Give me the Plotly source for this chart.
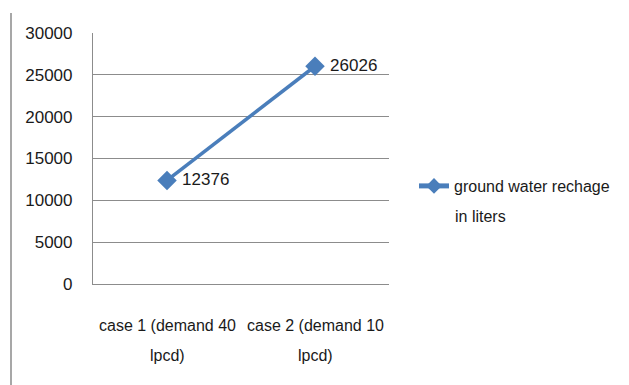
import plotly.graph_objects as go

# Groundwater recharge for two household demand scenarios
categories = ["case 1 (demand 40", "case 2 (demand 10"]
categories_line2 = ["lpcd)", "lpcd)"]
recharge_liters = [12376, 26026]
y_ticks = [0, 5000, 10000, 15000, 20000, 25000, 30000]

series_name = "ground water rechage"
series_name_line2 = "in liters"

FONT = "Liberation Sans, Arial, sans-serif"
FS = 17        # axis numbers and data labels
FS_CAT = 16    # category and legend text
TXT = "#1a1a1a"
BLUE = "#4A7EBB"
GRID = "#8C8C8C"
W, H = 629, 385
L, R, T, B = 93, 240, 33, 101
pw, ph = W - L - R, H - T - B


def px_x(px):
    return (px - L) / pw


def px_y(py):
    return (H - B - py) / ph


x_idx = list(range(len(categories)))

fig = go.Figure()
fig.add_trace(go.Scatter(
    x=x_idx,
    y=recharge_liters,
    mode="lines+markers+text",
    name=series_name,
    line=dict(color=BLUE, width=3.5),
    marker=dict(symbol="diamond", size=15, color=BLUE),
    text=[f" {v}" for v in recharge_liters],
    textposition="middle right",
    textfont=dict(family=FONT, size=FS, color=TXT),
    hoverinfo="skip",
))

annotations = []
for i, (a, b) in enumerate(zip(categories, categories_line2)):
    annotations.append(dict(x=i, y=px_y(325), xref="x", yref="paper",
                            text=a, showarrow=False, xanchor="center", yanchor="middle",
                            font=dict(family=FONT, size=FS_CAT, color=TXT)))
    annotations.append(dict(x=i, y=px_y(355), xref="x", yref="paper",
                            text=b, showarrow=False, xanchor="center", yanchor="middle",
                            font=dict(family=FONT, size=FS_CAT, color=TXT)))

annotations.append(dict(x=px_x(453), y=px_y(216), xref="paper", yref="paper",
                        text=series_name_line2, showarrow=False, xanchor="left", yanchor="middle",
                        font=dict(family=FONT, size=FS_CAT, color=TXT)))

fig.update_layout(
    width=W, height=H,
    margin=dict(l=L, r=R, t=T, b=B, pad=0, autoexpand=False),
    paper_bgcolor="white", plot_bgcolor="white",
    font=dict(family=FONT, size=FS, color=TXT),
    showlegend=True,
    legend=dict(x=px_x(414), y=px_y(186), xanchor="left", yanchor="middle",
                font=dict(family=FONT, size=FS_CAT, color=TXT),
                bgcolor="rgba(0,0,0,0)", itemsizing="constant"),
    xaxis=dict(range=[-0.5, 1.5], showticklabels=False, showgrid=False,
               showline=True, linecolor=GRID, linewidth=1.2, ticks="", zeroline=False,
               fixedrange=True),
    yaxis=dict(range=[0, 30000], tickvals=y_ticks, ticktext=[str(v) for v in y_ticks],
               showgrid=True, gridcolor=GRID, gridwidth=1.2,
               showline=True, linecolor=GRID, linewidth=1.2, ticks="",
               ticklabelstandoff=16, zeroline=False, fixedrange=True),
    annotations=annotations,
    shapes=[dict(type="line", xref="paper", yref="paper",
                 x0=px_x(11), x1=px_x(11),
                 y0=px_y(13), y1=px_y(H + 5),
                 line=dict(color="#8a8a8a", width=1.5))],
)

fig.write_html("out.html")
